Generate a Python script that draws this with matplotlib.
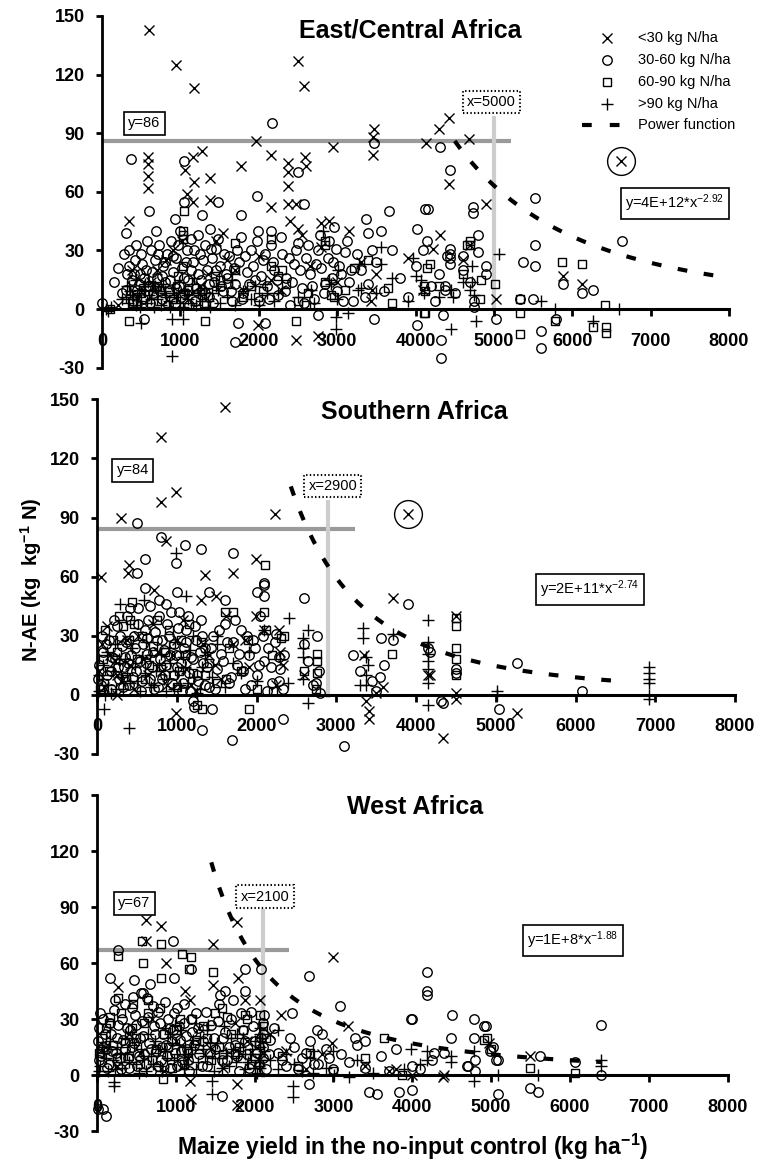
import matplotlib
matplotlib.use("Agg")
import matplotlib.pyplot as plt
import numpy as np
from matplotlib.lines import Line2D

plt.rcParams['font.family'] = ['Liberation Sans', 'DejaVu Sans']
plt.rcParams['mathtext.fontset'] = 'custom'
plt.rcParams['mathtext.rm'] = 'Liberation Sans'
plt.rcParams['mathtext.bf'] = 'Liberation Sans:bold'
plt.rcParams['mathtext.it'] = 'Liberation Sans:italic'
plt.rcParams['lines.scale_dashes'] = False

W, H = 768, 1162

# ---------------- data ----------------
categories = ['<30 kg N/ha', '30-60 kg N/ha', '60-90 kg N/ha', '>90 kg N/ha']
x_ticks = [0, 1000, 2000, 3000, 4000, 5000, 6000, 7000, 8000]
y_ticks = [-30, 0, 30, 60, 90, 120, 150]
titles = ['East/Central Africa', 'Southern Africa', 'West Africa']

# East/Central Africa
eca_lt30 = [(606,143),(945,125),(1174,113),(2500,127),(2572,114),(4428,98),(4300,92),(4130,85),(4680,87),(1970,86),
            (2160,79),(2945,83),(3466,92),(3453,88),(3453,79),(585,78),(585,74),(585,68),(585,62),(1270,81),(1165,78),
            (1180,65),(1165,55),(1060,71),(1080,59),(1377,67),(1377,56),(1771,73),(2373,75),(2373,70),(2373,63),(2373,54),
            (2480,54),(2585,78),(2597,73),(2160,52),(339,45),(4428,64),(4310,38),(2797,44),(1547,39),(2500,41),(3432,4),
            (1992,-8),(2479,-16),(2754,-14),(4900,54),(4223,31),(4691,33),(5023,5),(5880,17),(6123,13),
            (200,2),(450,6),(700,20),(900,30),(1150,8),(1350,18),(1600,25),(1800,10),(2150,15),(2400,45),(2650,22),
            (2800,32),(3000,14),(3300,24),(3500,18),(3900,26),(4100,10),(4600,25),
            (380,20),(620,14),(820,25),(1020,35),(1250,12),(1450,35),(1700,20),(2000,27),(2280,10),(2550,38),(2900,45),
            (3150,40),(3450,10)]
eca_30_60 = [(0,3),(2174,95),(373,77),(1051,76),(2500,70),(3475,85),(4309,83),(4440,71),(1979,58),(2576,54),(602,50),
             (1047,55),(1483,55),(1771,48),(3665,50),(4123,51),(3364,46),(691,40),(932,46),(1271,48),(301,39),(1377,41),
             (1771,37),(1992,40),(2152,40),(2966,42),(3390,39),(3559,40),(4025,41),(4153,35),(530,-5),(1737,-7),(2076,-7),
             (1695,-17),(2754,-3),(3475,-5),(4025,-8),(4322,-16),(4322,-25),(4160,51),(4731,52),(4731,49),(5519,57),
             (4795,38),(5519,33),(5370,24),(5531,22),(5880,13),(6123,8),(6264,10),(6635,35),(4436,31),(4436,28),(4436,26),
             (4436,23),(4606,27),(4900,22),(4900,18),(4372,12),(4372,10),(4748,4),(4748,1),(5025,-5),(4352,-3),(5600,-11),
             (5600,-20),(5497,5),(5327,5),(5795,-5),
             (150,14),(200,21),(250,8),(280,28),(320,18),(350,22),(380,15),(420,25),(450,10),(480,18),(500,28),(520,5),
             (560,20),(600,12),(620,30),(650,8),(680,25),(700,16),(730,33),(760,5),(780,22),(800,14),(830,28),(850,9),
             (880,35),(900,19),(930,3),(950,26),(980,12),(1000,40),(1020,21),(1050,8),(1080,30),(1100,15),(1130,36),
             (1160,24),(1190,4),(1220,18),(1250,28),(1280,10),(1310,33),(1340,20),(1370,6),(1400,26),(1430,14),(1460,31),
             (1500,22),(1540,9),(1580,18),(1620,27),(1660,4),(1700,13),(1750,24),(1800,8),(1850,19),(1900,30),(1950,15),
             (2000,4),(2050,25),(2100,12),(2150,33),(2200,20),(2250,7),(2300,28),(2350,16),(2400,2),(2450,23),(2500,34),
             (2550,11),(2600,26),(2650,18),(2700,5),(2750,30),(2800,21),(2850,13),(2900,35),(2950,24),(3000,9),(3050,18),
             (3100,29),(3150,14),(3200,4),(3300,20),(3400,13),(3500,24),(3600,9),(3700,30),(3800,16),(3900,6),(4000,22),
             (4100,30),(4200,12),(4250,4),(4300,18),(4400,27),(4500,8),(4600,20),(4700,14),(4800,29),
             (310,10),(340,30),(390,4),(410,18),(440,33),(470,13),(510,23),(540,16),(580,35),(610,3),(640,19),(670,11),
             (710,28),(740,9),(770,17),(810,24),(840,2),(870,15),(910,27),(940,11),(970,33),(1010,6),(1040,16),(1070,24),
             (1110,2),(1140,20),(1170,30),(1200,11),(1230,38),(1260,15),(1290,25),(1320,8),(1360,13),(1390,31),(1420,3),
             (1450,20),(1480,36),(1520,12),(1560,28),(1600,16),(1640,9),(1680,21),(1720,30),(1780,5),(1830,27),(1880,13),
             (1930,22),(1980,35),(2030,17),(2080,28),(2130,5),(2180,24),(2230,15),(2280,37),(2330,9),(2380,26),(2430,14),
             (2480,30),(2530,20),(2580,3),(2630,33),(2680,12),(2730,23),(2780,38),(2830,8),(2880,26),(2930,16),(2980,31),
             (3030,22),(3080,4),(3130,35),(3180,20),(3250,28),(3350,6),(3450,30)]
eca_60_90 = [(1051,50),(1030,40),(1030,38),(1035,36),(1695,34),(2160,36),(2839,35),(2839,33),(1695,20),(339,-6),(1313,-6),
             (2479,-6),(2627,8),(2606,2),(3644,11),(4110,12),(4110,-2),(4153,21),(4661,33),(2352,13),(2245,17),(2924,7),
             (2966,6),(1992,6),(1907,12),(1610,13),(1440,17),(975,17),(1038,22),(2160,22),(3220,21),(4691,35),(4691,33),
             (5012,13),(5327,5),(5327,-2),(5327,-13),(5871,24),(6123,23),(6412,2),(6264,-9),(6434,-9),(6434,-12),(5786,-6),
             (4180,23),(4840,15),(4818,5),(4121,9),(4121,-2),
             (100,0),(400,3),(500,8),(700,12),(900,5),(1100,10),(1300,3),(1500,15),(1800,6),(2050,9),(2300,20),(2500,4),
             (2850,14),(3100,10),(3400,25),(3700,3),(4300,12),(4600,18)]
eca_gt90 = [(898,-24),(4449,-10),(890,-5),(1038,-5),(500,-7),(2818,40),(3962,26),(4004,17),(3559,32),(3559,23),(3280,23),
            (2987,-4),(3136,-2),(2987,-10),(254,5),(339,12),(466,10),(551,13),(678,12),(805,8),(975,8),(1059,10),(1229,8),
            (1483,10),(1653,15),(1949,12),(2076,13),(2245,8),(2670,10),(2924,13),(3008,20),(3262,10),(4449,10),(4110,8),
            (5067,28),(4606,14),(4478,6),(4770,-6),(5600,4),(5786,0),(6264,-6),(6596,0),(4720,22),(4720,14),(4075,15),
            (50,0),(80,-1),(120,1),(300,6),(330,3),(360,9),(400,5),(430,2),(470,8),(500,4),(540,12),(570,3),(600,7),
            (640,10),(700,5),(750,2),(800,9),(850,4),(900,11),(950,6),(1000,3),(1050,9),(1100,5),(1150,13),(1200,2),
            (1250,7),(1300,11),(1350,4),(1400,8),(1500,3),(1600,6),(1700,2),(1800,9),(1900,5),(2000,2),(2100,8),(2200,4),
            (2500,6),(2700,3),(2900,15),(3000,5),(3300,11),(3500,8),(3700,16),(3900,4),(4300,6),(4700,10),(4750,7),
            (320,12),(380,7),(440,15),(490,1),(530,9),(590,14),(630,5),(660,1),(720,9),(780,13),(820,6),(870,1),(920,8),
            (980,14),(1030,1),(1080,7),(1130,3),(1180,16),(1230,10),(1280,4),(1330,8),(1380,1),(1450,12)]
eca_outlier = [(6620, 76)]

# Southern Africa
sa_lt30 = [(1602,146),(805,131),(985,103),(797,98),(302,90),(2231,92),(860,78),(50,60),(398,66),(390,62),(1992,69),
           (1711,62),(1354,61),(721,53),(1300,48),(1497,50),(3711,49),(2285,33),(1992,40),(2327,15),(3375,-3),(3409,-8),
           (3409,-12),(4340,-22),(4507,-2),(4507,1),(3585,4),(4172,10),(231,17),(985,-9),(252,0),(4500,40),(4145,10),
           (5270,-9),
           (30,12),(90,4),(160,20),(300,7),(420,15),(520,30),(640,10),(760,22),(880,5),(1000,28),(1120,13),(1240,2),
           (1400,20),(1550,8),(1700,26),(1900,14),(2100,33),(2300,22),(2600,10),(3350,20),(3500,1),
           (60,26),(130,35),(250,10),(380,28),(470,3),(580,18),(700,36),(820,12),(950,20),(1080,38),(1180,5),(1330,26),
           (1480,15),(1620,40),(1850,28),(2250,5)]
sa_30_60 = [(503,87),(797,80),(1103,76),(1308,74),(1707,72),(985,67),(608,69),(2096,57),(2096,56),(2004,52),(2096,50),
            (2600,49),(608,54),(503,62),(1006,52),(1405,52),(1602,48),(776,48),(860,46),(3899,46),(3564,29),(3711,28),
            (3208,20),(2755,30),(4340,-4),(3103,-26),(1698,-23),(1312,-18),(2327,-12),(1447,-7),(1216,-6),(4507,11),
            (4507,13),(4172,22),(2285,7),(2788,12),(2704,5),(629,29),(356,19),(189,19),(4145,24),(4312,-3),(5270,16),
            (6083,2),(5041,-7),
            (20,15),(50,5),(80,22),(120,10),(150,28),(180,3),(220,18),(250,35),(280,8),(310,25),(340,14),(370,40),(400,5),
            (430,20),(460,30),(490,12),(520,44),(550,2),(580,26),(610,16),(640,38),(670,8),(700,22),(730,32),(760,4),
            (790,18),(820,28),(850,10),(880,36),(910,20),(940,6),(970,26),(1000,14),(1030,42),(1060,2),(1090,24),
            (1120,33),(1150,11),(1180,19),(1210,-3),(1240,28),(1270,7),(1300,38),(1330,16),(1360,24),(1400,4),(1450,30),
            (1500,13),(1550,21),(1600,36),(1650,6),(1700,27),(1750,15),(1800,33),(1850,3),(1900,20),(1950,28),(2000,10),
            (2050,40),(2100,17),(2150,24),(2200,6),(2250,31),(2300,13),(2350,20),(2600,26),(2650,17),(2750,6),(2800,1),
            (3300,12),(3450,7),(3500,2),(3550,9),(3600,15),
            (10,8),(60,30),(110,26),(170,12),(210,38),(260,14),(290,30),(330,4),(360,27),(390,16),(420,44),(450,9),
            (480,24),(510,36),(540,17),(570,7),(600,33),(630,21),(660,45),(690,14),(720,3),(750,28),(780,40),(810,8),
            (840,23),(870,15),(900,30),(930,42),(960,10),(990,20),(1020,34),(1050,16),(1080,6),(1110,27),(1140,40),
            (1170,2),(1200,18),(1230,35),(1260,10),(1290,22),(1320,30),(1350,5),(1380,14),(1430,24),(1480,3),(1530,33),
            (1580,17),(1630,27),(1680,9),(1730,38),(1780,21),(1830,12),(1880,30),(1930,5),(1980,24),(2030,15),(2080,30),
            (2130,2),(2180,14),(2230,27),(2280,19),(2330,3)]
sa_60_90 = [(2105,66),(1711,42),(1602,42),(2088,42),(4507,39),(4507,35),(4507,24),(4507,18),(3698,21),(2755,21),
            (2755,17),(2755,11),(2306,29),(1895,28),(1908,-7),(1320,-7),(96,33),(440,47),(2117,33),(1027,12),(2201,2),
            (1614,8),(419,38),(4500,10),
            (40,3),(150,12),(250,22),(330,35),(400,28),(500,18),(600,8),(700,25),(800,14),(900,33),(1000,4),(1100,20),
            (1200,11),(1250,-5),(1300,27),(1400,16),(1500,6),(1650,24),(1800,12),(2000,3),(2200,20),(2350,30),(2600,12),
            (2750,3),
            (70,18),(200,28),(280,40),(360,9),(460,36),(560,30),(650,15),(750,38),(850,22),(950,10),(1050,28),(1150,36),
            (1350,10)]
sa_gt90 = [(285,46),(587,48),(985,72),(1120,50),(2411,39),(2642,33),(2579,29),(2579,24),(2579,19),(2579,8),(2642,-4),
           (3333,34),(3333,29),(3375,19),(3375,5),(3375,10),(3711,31),(4151,38),(4151,27),(4151,21),(4151,17),(4151,13),
           (4151,6),(4151,-5),(398,-17),(84,-7),(1509,30),(5020,2),(5020,0),(6916,14),(6916,11),(6916,8),(6916,6),
           (6916,0),(6916,-2),
           (30,2),(60,8),(100,0),(140,5),(200,12),(240,3),(300,9),(350,18),(420,6),(480,14),(540,2),(600,11),(660,20),
           (720,5),(780,15),(840,8),(900,24),(960,3),(1020,12),(1080,19),(1140,6),(1200,30),(1260,1),(1320,14),(1380,22),
           (1440,9),(1500,26),(1600,4),(1700,16),(1800,11),(1900,22),(2000,7),(2100,33),(2300,18),(2400,6),(3300,5),
           (3400,15),
           (20,10),(70,15),(120,22),(180,1),(220,26),(270,18),(320,3),(380,10),(440,24),(500,7),(560,19),(620,27),
           (680,4),(740,12),(800,21),(860,2),(920,16),(980,27),(1040,5),(1100,14),(1160,23),(1220,9),(1290,3),(1350,20)]
sa_outlier = [(3900, 92)]

# West Africa
wa_lt30 = [(616,83),(807,80),(1780,82),(1475,70),(2989,63),(616,72),(879,60),(263,47),(1112,45),(1475,48),(1876,40),
           (2067,40),(2335,32),(3185,26),(1185,-3),(1197,-13),(1780,-5),(1780,-16),(4404,0),(3788,3),(2980,17),(1792,52),
           (1176,40),(5488,10),(4978,17),(4384,-1),
           (100,15),(250,5),(400,22),(550,12),(700,30),(850,2),(1000,18),(1150,9),(1300,25),(1450,14),(1600,4),(1750,28),
           (1900,18),(2050,8),(2200,22),(2400,13),(2650,3),(2850,11),(3400,5),(3700,2),(4000,0)]
wa_30_60 = [(964,72),(263,67),(1197,57),(2076,57),(1876,57),(2684,53),(4191,55),(4191,45),(4191,43),(170,52),(467,51),
            (972,52),(667,49),(582,44),(455,42),(1560,43),(1627,45),(3088,37),(1876,45),(4501,32),(4786,30),(4913,26),
            (4492,20),(3980,30),(3992,30),(2472,33),(2791,24),(3279,20),(3406,18),(2684,-5),(3448,-9),(3550,-10),
            (3830,-9),(4000,-8),(1580,-11),(8,-18),(115,-22),(72,-18),(4786,20),(5020,15),(5060,8),(4935,26),(4991,13),
            (6400,27),(6400,0),(6060,7),(5488,-7),(5594,-9),(5093,-10),(5615,10),(4278,12),(4702,5),(4800,8),(5093,8),
            (10,18),(30,25),(50,10),(80,30),(120,14),(150,6),(180,22),(210,35),(240,12),(270,27),(300,3),(330,19),
            (360,38),(390,9),(420,24),(450,15),(480,32),(510,5),(540,20),(570,29),(600,11),(630,41),(660,17),(690,2),
            (720,26),(750,13),(780,34),(810,8),(840,22),(870,16),(900,30),(930,4),(960,24),(990,12),(1020,36),(1050,19),
            (1080,7),(1110,28),(1140,14),(1170,2),(1200,23),(1250,33),(1300,11),(1350,18),(1400,5),(1450,27),(1500,14),
            (1550,38),(1600,20),(1650,8),(1700,30),(1750,16),(1800,2),(1850,24),(1900,11),(1950,34),(2000,18),(2050,6),
            (2100,28),(2100,15),(2100,22),(2100,9),(2150,3),(2200,19),(2300,12),(2400,5),(2500,15),(2600,9),(2700,18),
            (2800,6),(2900,14),(3000,3),(3100,11),(3200,7),(3300,16),(3400,4),(3600,10),(3700,2),(3800,14),(4000,5),
            (4100,3),(4250,8),(4400,12),(4700,5),(4800,2),
            (20,8),(40,33),(70,15),(100,22),(130,4),(160,28),(190,13),(230,40),(260,20),(290,9),(320,30),(350,14),
            (380,25),(410,4),(440,36),(470,17),(500,27),(530,10),(560,44),(590,21),(620,6),(650,31),(680,14),(710,37),
            (740,22),(770,5),(800,28),(830,15),(860,39),(890,10),(920,25),(950,18),(980,33),(1010,5),(1040,26),(1070,13),
            (1100,38),(1130,21),(1160,8),(1190,30),(1230,16),(1280,25),(1330,5),(1380,34),(1430,12),(1480,20),(1530,29),
            (1580,8),(1630,23),(1680,15),(1730,40),(1780,10),(1830,33),(1880,18),(1930,4),(1980,26),(2030,12),(2080,20),
            (2120,32),(2180,11),(2250,25),(2350,8),(2450,20),(2550,3),(2650,12),(2750,6),(2850,22),(2950,9)]
wa_60_90 = [(272,64),(807,70),(582,60),(272,41),(807,52),(645,40),(1078,65),(1197,63),(1163,57),(1475,55),(573,72),
            (165,31),(455,38),(1876,32),(837,-2),(3639,20),(3870,0),(4946,20),(2067,32),(1580,36),(4913,19),(5488,4),
            (6060,1),(4999,14),
            (60,20),(150,28),(250,9),(350,17),(450,25),(550,6),(650,33),(750,14),(850,22),(950,4),(1050,30),(1150,12),
            (1250,19),(1350,26),(1450,8),(1550,15),(1650,31),(1750,11),(1850,24),(1950,6),(2050,16),(2150,20),(2350,10),
            (2550,5),(2700,12),(3000,2),(3400,9),
            (30,12),(110,25),(200,16),(300,33),(400,10),(500,20),(600,28),(700,8),(800,36),(900,15),(1000,24),(1100,6),
            (1200,30),(1300,14),(1400,20),(1500,33),(1600,11),(1700,22),(1800,15),(1900,30),(2000,9),(2100,26)]
wa_gt90 = [(1453,-10),(1453,-3),(2493,-12),(2493,-6),(220,-4),(220,-6),(3980,14),(4191,13),(4191,8),(4492,7),(4786,13),
           (4786,-3),(3193,-1),(3002,0),(2747,1),(2301,24),(1771,22),(1409,27),(985,27),(858,25),(1112,15),(1876,11),
           (2738,13),(2004,4),(2067,25),(2067,22),(2067,18),(2067,15),(2067,11),(2067,8),(2067,4),(4490,10),(5092,0),
           (5594,0),(6400,5),(6400,8),
           (40,5),(90,12),(140,2),(200,8),(260,15),(320,4),(380,11),(440,20),(500,6),(560,14),(620,2),(680,10),(740,18),
           (800,5),(860,13),(920,22),(980,8),(1040,16),(1100,3),(1160,11),(1220,19),(1280,7),(1340,14),(1400,24),
           (1460,9),(1520,17),(1580,4),(1640,12),(1700,20),(1760,7),(1820,15),(1880,3),(1940,11),(2000,18),(2060,5),
           (2120,13),(2200,8),(2300,3),(2400,11),(2500,6),(2600,2),(2700,9),(2900,4),(3000,13),(3300,8),(3500,1),
           (3900,3),(4100,6),
           (20,2),(60,15),(110,9),(170,18),(230,3),(290,12),(350,20),(410,7),(470,16),(530,1),(590,10),(650,22),(710,6),
           (770,14),(830,2),(890,9),(950,17),(1010,11),(1070,24),(1130,6),(1190,15),(1250,3),(1310,20),(1370,10),
           (1430,17),(1490,2),(1550,9),(1610,26),(1670,5),(1730,14),(1790,10),(1850,20),(1910,7),(1970,14),(2030,1),
           (2090,20)]
wa_outlier = []

# power-function fits (coefficient, exponent, x-range) and threshold lines
power_coef = [4e12, 2e11, 1e8]
power_exp = [-2.92, -2.74, -1.88]
power_xrange = [(4500, 8000), (2430, 6640), (1450, 6400)]
power_labels = ['y=4E+12*x$^{-2.92}$', 'y=2E+11*x$^{-2.74}$', 'y=1E+8*x$^{-1.88}$']
y_thresh = [86, 84, 67]
x_thresh = [5000, 2900, 2100]

# ---------------- layout ----------------
fig = plt.figure(figsize=(W / 100, H / 100), dpi=100)

def add_ax(left, right, top, bottom):
    return fig.add_axes([left / W, 1 - bottom / H, (right - left) / W, (bottom - top) / H])

panels = [
    dict(box=(102, 729, 16, 367.7), data=[eca_lt30, eca_30_60, eca_60_90, eca_gt90], outl=eca_outlier,
         title_xy=(410, 30), h_end=5220, v_top=99, ybox=(540, 95), xbox=(4972, 106), eqxy=(7310, 54)),
    dict(box=(97, 735, 399.3, 754), data=[sa_lt30, sa_30_60, sa_60_90, sa_gt90], outl=sa_outlier,
         title_xy=(414, 412), h_end=3240, v_top=99, ybox=(450, 114), xbox=(2956, 106), eqxy=(6180, 53.4)),
    dict(box=(97, 727.5, 795, 1131), data=[wa_lt30, wa_30_60, wa_60_90, wa_gt90], outl=wa_outlier,
         title_xy=(415.5, 807), h_end=2430, v_top=89, ybox=(470, 92), xbox=(2130, 95.5), eqxy=(6036, 72)),
]

marker_styles = [('x', 7.2), ('o', 6.8), ('s', 6.2), ('+', 8.2)]
MEW = 1.0

for i, p in enumerate(panels):
    ax = add_ax(*p['box'])
    ax.set_xlim(0, 8000)
    ax.set_ylim(-30, 150)
    ax.patch.set_alpha(0)
    for s in ['top', 'right']:
        ax.spines[s].set_visible(False)
    ax.spines['bottom'].set_position(('data', 0))
    ax.spines['bottom'].set_linewidth(2.2)
    ax.spines['left'].set_linewidth(2.0)
    ax.set_xticks(x_ticks)
    ax.set_yticks(y_ticks)
    ax.set_xticklabels([str(v) for v in x_ticks], fontweight='bold')
    ax.set_yticklabels([str(v) for v in y_ticks], fontweight='bold')
    ax.tick_params(axis='x', direction='out', length=5, width=2, pad=12, labelsize=13)
    ax.tick_params(axis='y', direction='out', length=4.5, width=2, pad=8, labelsize=13)

    # threshold lines
    ax.plot([0, p['h_end']], [y_thresh[i], y_thresh[i]], color='#9a9a9a', lw=3,
            solid_capstyle='butt', zorder=1)
    ax.plot([x_thresh[i], x_thresh[i]], [-1.5, p['v_top']], color='#cdcdcd', lw=3,
            solid_capstyle='butt', zorder=1)

    # points
    for pts, (m, ms) in zip(p['data'], marker_styles):
        xs, ys = zip(*pts)
        ax.plot(xs, ys, linestyle='none', marker=m, ms=ms, mfc='none', mec='black',
                mew=MEW, clip_on=False, zorder=3)
    for (ox, oy) in p['outl']:
        ax.plot([ox], [oy], linestyle='none', marker='x', ms=7.2, mec='black', mew=MEW, zorder=3)
        ax.plot([ox], [oy], linestyle='none', marker='o', ms=20, mfc='none', mec='black', mew=MEW, zorder=3)

    # power function
    x0, x1 = power_xrange[i]
    xx = np.linspace(x0, x1, 300)
    ax.plot(xx, power_coef[i] * xx ** power_exp[i], color='black', lw=3,
            dashes=(7, 12), dash_capstyle='butt', zorder=4)

    # boxes
    ax.text(*p['ybox'], 'y=%d' % y_thresh[i], ha='center', va='center', fontsize=10.5, zorder=5,
            bbox=dict(boxstyle='square,pad=0.3', fc='white', ec='black', lw=1.2))
    ax.text(*p['xbox'], 'x=%d' % x_thresh[i], ha='center', va='center', fontsize=10.5, zorder=5,
            bbox=dict(boxstyle='square,pad=0.3', fc='white', ec='black', lw=1.5, ls=':'))
    ax.text(*p['eqxy'], power_labels[i], ha='center', va='center', fontsize=10.5, zorder=5,
            bbox=dict(boxstyle='square,pad=0.3', fc='white', ec='black', lw=1.2))

    fig.text(p['title_xy'][0] / W, 1 - p['title_xy'][1] / H, titles[i], ha='center', va='center',
             fontsize=18, fontweight='bold')

# legend (top panel)
leg_rows = [38.3, 60, 81.7, 104.3, 125]
for (m, ms), lab, yy in zip(marker_styles, categories, leg_rows):
    fig.add_artist(Line2D([606.7 / W], [1 - yy / H], marker=m, ms=ms, mfc='none', mec='black', mew=MEW,
                          linestyle='none', transform=fig.transFigure))
    fig.text(637.7 / W, 1 - yy / H, lab, ha='left', va='center', fontsize=10.5)
fig.add_artist(Line2D([582 / W, 620 / W], [1 - 124.5 / H] * 2, color='black', lw=3, dashes=(7, 13),
                      dash_capstyle='butt', transform=fig.transFigure))
fig.text(637.7 / W, 1 - leg_rows[4] / H, 'Power function', ha='left', va='center', fontsize=10.5)

# axis labels
fig.text(31 / W, 1 - 579.5 / H, 'N-AE (kg  kg$^{\\mathbf{-1}}$ N)', rotation=90, ha='center', va='center',
         fontsize=14.5, fontweight='bold')
fig.text(412.5 / W, 1 - 1155 / H, 'Maize yield in the no-input control (kg ha$^{\\mathbf{-1}}$)', ha='center',
         va='baseline', fontsize=16.5, fontweight='bold')

fig.savefig('out.png', dpi=100)
